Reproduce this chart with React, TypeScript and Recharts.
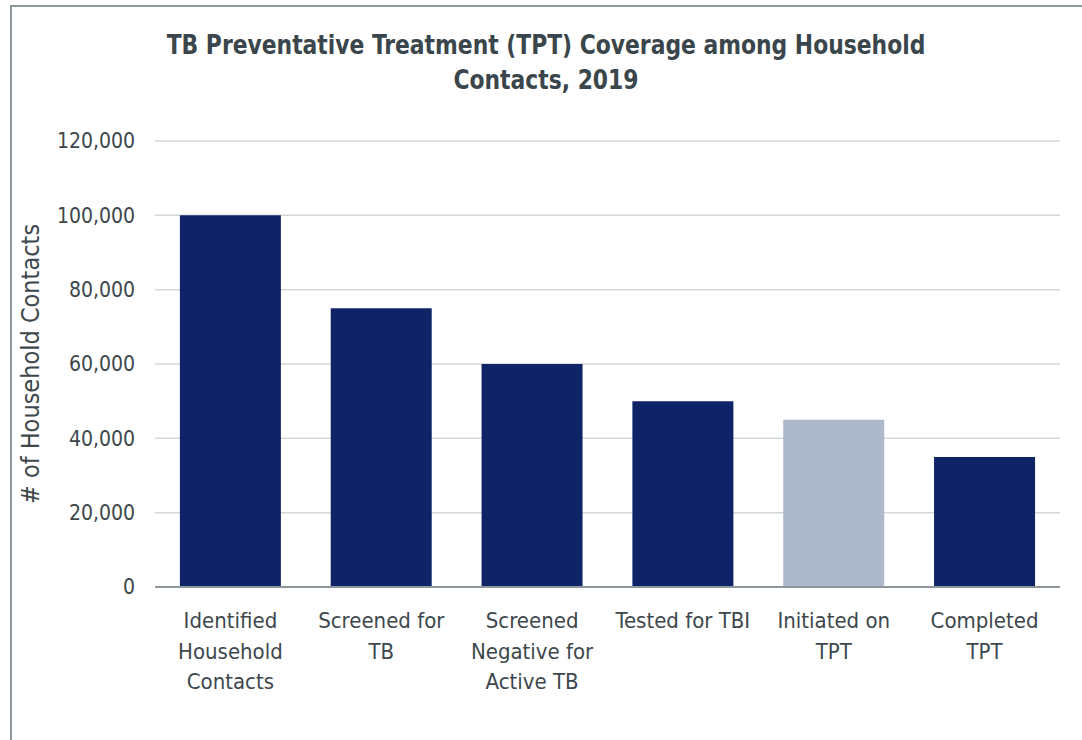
import { BarChart, Bar, XAxis, YAxis, CartesianGrid, Cell, Label } from 'recharts';

const categories = [
  'Identified\nHousehold\nContacts',
  'Screened for\nTB',
  'Screened\nNegative for\nActive TB',
  'Tested for TBI',
  'Initiated on\nTPT',
  'Completed\nTPT',
];
const contacts = [100000, 75000, 60000, 50000, 45000, 35000];
const highlighted = [false, false, false, false, true, false];
const yTicks = [0, 20000, 40000, 60000, 80000, 100000, 120000];

const FONT = '"DejaVu Sans Condensed", "Liberation Sans", sans-serif';
const TEXT = '#3d474c';

function CategoryTick({ x, y, payload }: any) {
  const lines = String(payload.value).split('\n');
  return (
    <text x={x} y={y} textAnchor="middle" fill={TEXT} fontSize={22} fontFamily={FONT}>
      {lines.map((l, i) => (
        <tspan key={i} x={x} dy={i === 0 ? 33 : 30.5}>
          {l}
        </tspan>
      ))}
    </text>
  );
}

export default function App() {
  const data = categories.map((c, i) => ({ name: c, value: contacts[i], hi: highlighted[i] }));

  return (
    <div style={{ position: 'absolute', left: 0, top: 0, width: 1082, height: 740, background: '#fff', overflow: 'hidden' }}>
      <div
        style={{
          position: 'absolute', left: 10, top: 5, width: 1100, height: 800,
          borderLeft: '2px solid #8e979c', borderTop: '2px solid #8e979c',
        }}
      />
      <div
        style={{
          position: 'absolute', left: 0, top: 27, width: 1092, textAlign: 'center',
          fontFamily: FONT, fontWeight: 'bold', fontSize: 27, lineHeight: '35px', color: '#3a464b',
          transform: 'scaleX(0.9)', transformOrigin: '546px 0',
        }}
      >
        TB Preventative Treatment (TPT) Coverage among Household
        <br />
        Contacts, 2019
      </div>
      <div style={{ position: 'absolute', left: 0, top: 0 }}>
        <BarChart
          width={1082}
          height={740}
          data={data}
          margin={{ top: 141, right: 22, left: 0, bottom: 0 }}
          barCategoryGap="16.5%"
        >
          <CartesianGrid vertical={false} stroke="#d3d6d9" strokeWidth={1.5} />
          <XAxis
            dataKey="name"
            height={153}
            tick={<CategoryTick />}
            tickLine={false}
            axisLine={{ stroke: '#8e979c', strokeWidth: 2 }}
            interval={0}
          />
          <YAxis
            width={155}
            domain={[0, 120000]}
            ticks={yTicks}
            tickFormatter={(v: number) => v.toLocaleString('en-US')}
            tick={{ fill: TEXT, fontSize: 21, fontFamily: FONT }}
            tickLine={false}
            axisLine={false}
            tickSize={0}
            tickMargin={20}
          >
            <Label
              value="# of Household Contacts"
              angle={-90}
              position="insideLeft"
              offset={30}
              style={{ fill: TEXT, fontSize: 25, fontFamily: FONT, textAnchor: 'middle' }}
            />
          </YAxis>
          <Bar dataKey="value" isAnimationActive={false}>
            {data.map((d, i) => (
              <Cell key={i} fill={d.hi ? '#adb9cb' : '#0f2467'} />
            ))}
          </Bar>
        </BarChart>
      </div>
    </div>
  );
}
